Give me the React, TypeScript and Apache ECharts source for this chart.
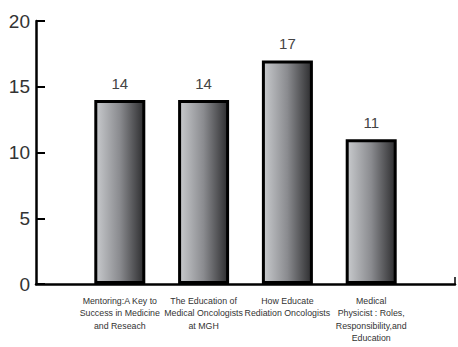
import React, { useEffect, useRef } from "react";
import * as echarts from "echarts";

const categories: string[] = [
  "",
  "Mentoring:A Key to\nSuccess in Medicine\nand Reseach",
  "The Education of\nMedical Oncologists\nat MGH",
  "How Educate\nRediation Oncologists",
  "Medical\nPhysicist : Roles,\nResponsibility,and\nEducation",
  "",
];
const values: (number | string)[] = ["-", 14, 14, 17, 11, "-"];
const yTicks = { min: 0, max: 20, interval: 5 };

export default function App() {
  const ref = useRef<HTMLDivElement>(null);
  useEffect(() => {
    if (!ref.current) return;
    const chart = echarts.init(ref.current, null, { renderer: "svg" });
    chart.setOption({
      animation: false,
      backgroundColor: "#ffffff",
      grid: { left: 36, right: 1, top: 21, bottom: 63, containLabel: false },
      xAxis: {
        type: "category",
        data: categories,
        boundaryGap: false,
        axisLine: { show: true, lineStyle: { color: "#000", width: 2.5 } },
        axisTick: {
          show: true,
          inside: true,
          length: 7,
          interval: (index: number) => index === categories.length - 1,
          lineStyle: { color: "#000", width: 1.5 },
        },
        axisLabel: {
          interval: 0,
          margin: 11,
          fontSize: 8.8,
          lineHeight: 12.2,
          color: "#333",
          fontFamily: "'Liberation Sans', Arial, sans-serif",
          align: "center",
        },
        splitLine: { show: false },
      },
      yAxis: {
        type: "value",
        min: yTicks.min,
        max: yTicks.max,
        interval: yTicks.interval,
        axisLine: { show: true, lineStyle: { color: "#000", width: 2.5 } },
        axisTick: { show: true, inside: true, length: 9, lineStyle: { color: "#000", width: 2 } },
        axisLabel: {
          margin: 6,
          fontSize: 19,
          color: "#333",
          fontFamily: "'Liberation Sans', Arial, sans-serif",
        },
        splitLine: { show: false },
      },
      series: [
        {
          type: "bar",
          data: values,
          barWidth: 51,
          itemStyle: {
            borderColor: "#000",
            borderWidth: 3,
            color: new echarts.graphic.LinearGradient(0, 0, 1, 0, [
              { offset: 0, color: "#c8cacd" },
              { offset: 0.5, color: "#8a8b8f" },
              { offset: 1, color: "#2e2e30" },
            ]),
          },
          label: {
            show: true,
            position: "top",
            distance: 9,
            fontSize: 15,
            color: "#444",
            fontFamily: "'Liberation Sans', Arial, sans-serif",
          },
        },
      ],
    });
    return () => chart.dispose();
  }, []);
  return (
    <div
      ref={ref}
      style={{ position: "absolute", left: 0, top: 0, width: 458, height: 347 }}
    />
  );
}
